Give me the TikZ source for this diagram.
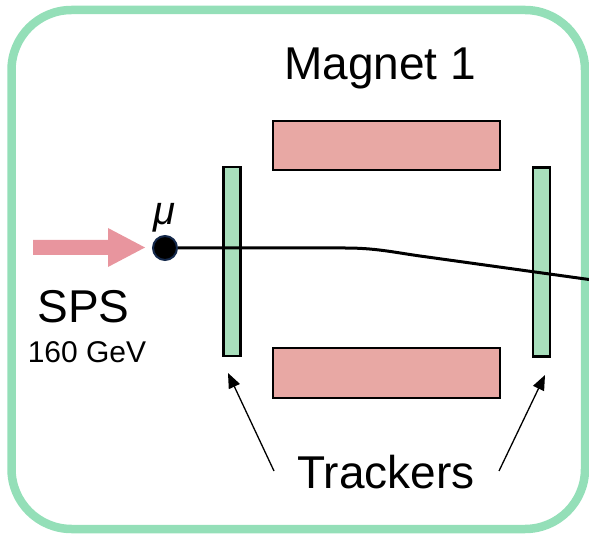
\documentclass[tikz,border=0pt]{standalone}
\usepackage{fontspec}
\setmainfont{Liberation Sans}
\usetikzlibrary{arrows.meta}
\definecolor{framegreen}{HTML}{94DFB8}
\definecolor{trackgreen}{HTML}{A8DFBC}
\definecolor{magnetred}{HTML}{E8A8A4}
\definecolor{beampink}{HTML}{E8959E}
\definecolor{dotrim}{HTML}{14284A}
\tikzset{
  magnetbox/.style={draw=black, line width=2.5pt, fill=magnetred,
    minimum width=227pt, minimum height=49pt, inner sep=0pt},
  trackerbox/.style={draw=black, line width=2.2pt, fill=trackgreen,
    minimum width=17pt, minimum height=189pt, inner sep=0pt},
  bigtext/.style={font=\fontsize{46}{46}\selectfont, inner sep=0pt, anchor=base},
  pointer/.style={line width=1.3pt, -{Triangle[length=15pt,width=12pt]}},
}
\begin{document}
\begin{tikzpicture}[x=1pt,y=-1pt]
\useasboundingbox (0,0) rectangle (589,534);
% outer frame
\draw[framegreen, line width=8.5pt, rounded corners=60pt] (11.5,10) rectangle (585,529);

% magnets
\node[magnetbox] (m1) at (386.5,145.5) {};
\node[magnetbox, minimum height=50pt] (m2) at (386.5,373) {};
\node[bigtext] (mlabel) at (380,80) {Magnet 1};

% beam track from the muon through both trackers
\node[circle, fill=black, draw=dotrim, line width=2pt, minimum size=24pt, inner sep=0pt] (mu) at (165,248) {};
\coordinate (bend) at (345,248);
\coordinate (exit) at (589,279.5);
\node[trackerbox] (t1) at (232,261.5) {};
\node[trackerbox] (t2) at (541.5,262) {};
\draw[line width=3pt] (mu.east) -- (bend) .. controls (375,248) and (392,252) .. (420,256) -- (exit);
\node[inner sep=0pt, anchor=base, font=\fontsize{40}{40}\selectfont\itshape] (mulabel) at (164,225) {μ};

% incoming beam arrow
\coordinate (tip) at (145,247.5);
\fill[beampink] (33,240) -- (108,240) -- (108,228) -- (tip) -- (108,267) -- (108,255) -- (33,255) -- cycle;
\node[bigtext] (sps) at (83.5,323) {SPS};
\node[font=\fontsize{30}{30}\selectfont, inner sep=0pt, anchor=base] (energy) at (87,363) {160 GeV};

% tracker labels with pointers
\node[bigtext] (tlabel) at (386,488) {Trackers};
\coordinate (p1) at (274,471);
\coordinate (p2) at (499,471);
\coordinate (q1) at (228,373);
\coordinate (q2) at (545,375);
\draw[pointer] (p1) -- (q1);
\draw[pointer] (p2) -- (q2);
\end{tikzpicture}
\end{document}
